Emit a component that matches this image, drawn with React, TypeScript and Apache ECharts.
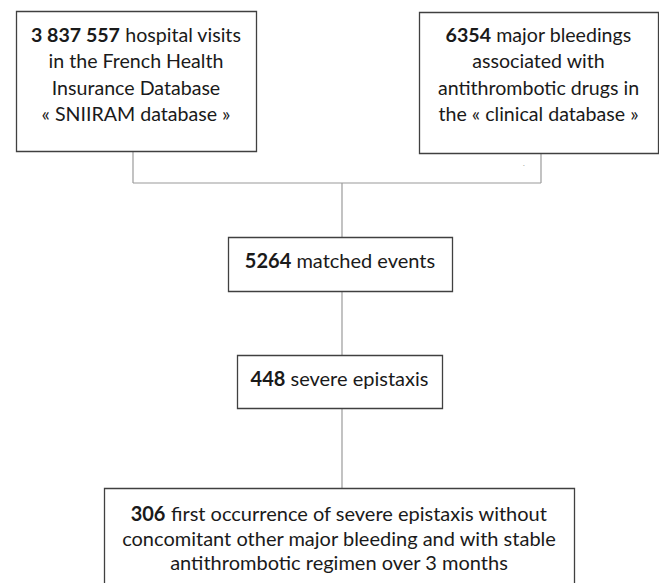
import React, { useEffect, useRef } from "react";
import * as echarts from "echarts";

const boxNumbers = ["3 837 557", "6354", "5264", "448", "306"];
const boxTexts = [
  [" hospital visits", "in the French Health", "Insurance Database", "« SNIIRAM database »"],
  [" major bleedings", "associated with", "antithrombotic drugs in", "the « clinical database »"],
  [" matched events"],
  [" severe epistaxis"],
  [" first occurrence of severe epistaxis without", "concomitant other major bleeding and with stable", "antithrombotic regimen over 3 months"],
];

// layout: [x, y, w, h, firstLineCenterY, lineHeight, fontSize]
const boxes = [
  [16, 11, 240, 140, 34, 26.5, 19.6],
  [419, 12, 239, 141, 34, 26.5, 19.6],
  [228, 237, 224, 54, 260, 26, 20],
  [237, 355, 205, 53, 378, 26, 20],
  [104, 488, 470, 110, 513, 24.5, 20],
];

const FONT = "Lato, 'Open Sans', sans-serif";

export default function App() {
  const ref = useRef<HTMLDivElement>(null);
  useEffect(() => {
    if (!ref.current) return;
    const chart = echarts.init(ref.current, null, { renderer: "svg" });
    const elements: any[] = [];
    const lineStyle = { stroke: "#9a9a9a", lineWidth: 1.2 };
    const conn = (x1: number, y1: number, x2: number, y2: number) =>
      elements.push({ type: "line", shape: { x1, y1, x2, y2 }, style: lineStyle, z: 1 });
    conn(133, 151, 133, 183);
    conn(541, 153, 541, 183);
    conn(133, 183, 541, 183);
    conn(342, 183, 342, 237);
    conn(342, 291, 342, 355);
    conn(342, 408, 342, 488);

    boxes.forEach((b, i) => {
      const [x, y, w, h, ly, lh, fs] = b;
      elements.push({
        type: "rect",
        shape: { x: x + 0.5, y: y + 0.5, width: w, height: h },
        style: { fill: "#ffffff", stroke: "#404040", lineWidth: 1.3 },
        z: 2,
      });
      const lines = boxTexts[i];
      lines.forEach((ln, k) => {
        const text = k === 0 ? `{b|${boxNumbers[i]}}{n|${ln}}` : `{n|${ln}}`;
        elements.push({
          type: "text",
          x: x + w / 2,
          y: ly + k * lh,
          style: {
            text,
            align: "center",
            verticalAlign: "middle",
            fill: "#1a1a1a",
            font: `${fs}px ${FONT}`,
            rich: {
              b: { fontFamily: FONT, fontSize: fs, fontWeight: "bold", fill: "#1a1a1a" },
              n: { fontFamily: FONT, fontSize: fs, fill: "#1a1a1a" },
            },
          },
          z: 3,
        });
      });
    });

    elements.push({
      type: "text",
      x: 524,
      y: 168,
      style: { text: "`", fill: "#999", font: `8px ${FONT}`, align: "center", verticalAlign: "middle" },
      z: 3,
    });

    chart.setOption({
      animation: false,
      backgroundColor: "#ffffff",
      graphic: { elements },
    });
    return () => chart.dispose();
  }, []);
  return <div ref={ref} style={{ width: 659, height: 583, position: "absolute", left: 0, top: 0 }} />;
}
